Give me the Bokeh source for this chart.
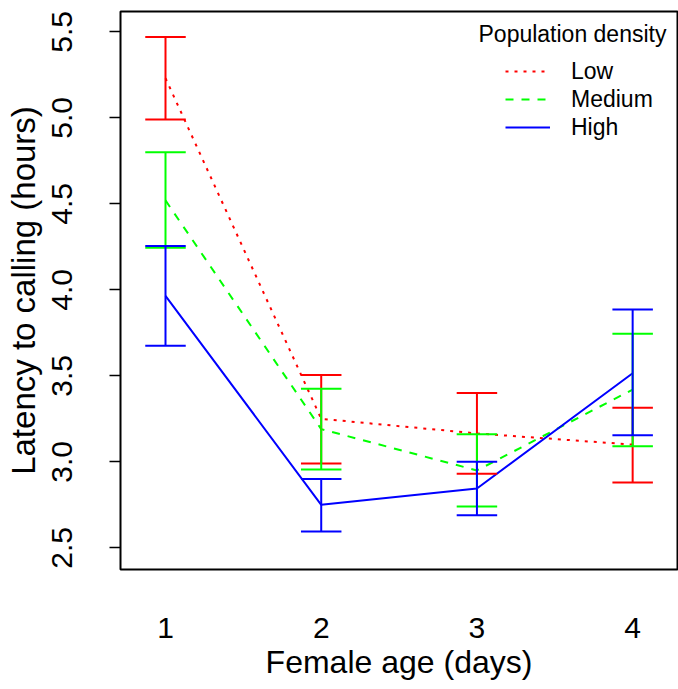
from bokeh.plotting import figure
from bokeh.models import Legend, LegendItem, Label, FixedTicker, Range1d
from bokeh.embed import file_html
from bokeh.resources import INLINE

ages = [1, 2, 3, 4]
age_labels = ["1", "2", "3", "4"]
y_ticks = [2.5, 3.0, 3.5, 4.0, 4.5, 5.0, 5.5]

low_mean = [5.23, 3.25, 3.165, 3.10]
low_lower = [4.99, 2.99, 2.93, 2.88]
low_upper = [5.47, 3.505, 3.40, 3.315]

med_mean = [4.52, 3.19, 2.95, 3.42]
med_lower = [4.245, 2.955, 2.74, 3.09]
med_upper = [4.80, 3.425, 3.16, 3.745]

high_mean = [3.965, 2.75, 2.845, 3.515]
high_lower = [3.675, 2.595, 2.69, 3.155]
high_upper = [4.255, 2.90, 3.00, 3.885]

series = [
    ("Low", low_mean, low_lower, low_upper, "#FF0000", "3 6"),
    ("Medium", med_mean, med_lower, med_upper, "#00FF00", "8 8"),
    ("High", high_mean, high_lower, high_upper, "#0000FF", "solid"),
]

FONT = "Liberation Sans"

p = figure(width=678, height=689, output_backend="svg", toolbar_location=None,
           x_range=Range1d(0.711, 4.288), y_range=Range1d(2.374, 5.618),
           min_border_left=120, min_border_right=1, min_border_top=11,
           min_border_bottom=120)
p.grid.visible = False
p.outline_line_color = "black"
p.outline_line_width = 2
p.background_fill_color = "white"

p.xaxis.ticker = FixedTicker(ticks=ages)
p.xaxis.major_label_overrides = {a: l for a, l in zip(ages, age_labels)}
p.xaxis.major_tick_line_color = None
p.xaxis.minor_tick_line_color = None
p.xaxis.axis_line_color = None
p.xaxis.major_label_standoff = 42
p.xaxis.axis_label = "Female age (days)"
p.xaxis.axis_label_standoff = 3

p.yaxis.ticker = FixedTicker(ticks=y_ticks)
p.yaxis.major_label_overrides = {t: f"{t:.1f}" for t in y_ticks}
p.yaxis.major_label_orientation = "vertical"
p.yaxis.major_tick_out = 11
p.yaxis.major_tick_in = 0
p.yaxis.major_tick_line_width = 1.5
p.yaxis.minor_tick_line_color = None
p.yaxis.axis_line_color = None
p.yaxis.major_label_standoff = 37
p.yaxis.axis_label = "Latency to calling (hours)"
p.yaxis.axis_label_standoff = 8

for ax in (p.xaxis[0], p.yaxis[0]):
    ax.major_label_text_font = FONT
    ax.major_label_text_font_size = "30px"
    ax.major_label_text_color = "black"
    ax.axis_label_text_font = FONT
    ax.axis_label_text_font_style = "normal"
    ax.axis_label_text_color = "black"
p.xaxis.axis_label_text_font_size = "32px"
p.yaxis.axis_label_text_font_size = "33px"

cap = 0.13
items = []
for name, mean, lo, hi, color, dash in series:
    r = p.line(ages, mean, line_color=color, line_width=2, line_dash=dash)
    items.append(LegendItem(label=name, renderers=[r]))
for name, mean, lo, hi, color, dash in series:
    p.segment(x0=ages, y0=lo, x1=ages, y1=hi, line_color=color, line_width=2)
    p.segment(x0=[a - cap for a in ages], y0=lo, x1=[a + cap for a in ages], y1=lo,
              line_color=color, line_width=2)
    p.segment(x0=[a - cap for a in ages], y0=hi, x1=[a + cap for a in ages], y1=hi,
              line_color=color, line_width=2)

legend = Legend(items=items, location=(385, 428), orientation="vertical",
                border_line_color=None, background_fill_alpha=0,
                padding=0, margin=0, spacing=0,
                glyph_width=45, glyph_height=28, label_height=28,
                label_standoff=21,
                label_text_font=FONT, label_text_font_size="23px",
                label_text_color="black")
p.add_layout(legend, "center")

p.add_layout(Label(x=3.010, y=5.49, text="Population density",
                   text_font=FONT, text_font_size="23px",
                   text_baseline="middle", text_align="left",
                   text_color="black"))

open("out.html", "w").write(file_html(p, INLINE))
